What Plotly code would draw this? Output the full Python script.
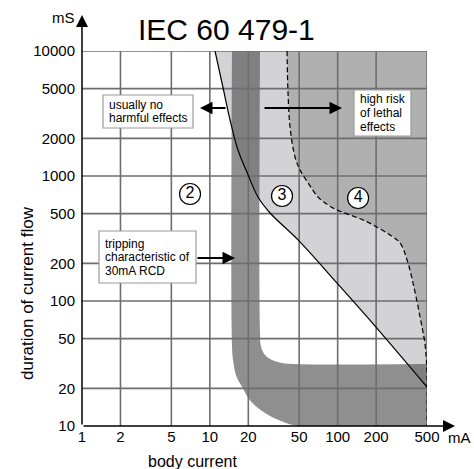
import math
import plotly.graph_objects as go

# ---------------- data (mA, ms) ----------------
x_ticks = [1, 2, 5, 10, 20, 50, 100, 200, 500]
y_ticks = [10, 20, 50, 100, 200, 500, 1000, 2000, 5000, 10000]

# solid boundary curve (zone 2 / zone 3)
c1_current = [10.98, 12.7, 14.4, 16.6, 19.5, 23.8, 29.6, 49.0, 98.9, 170, 500]
c1_time = [10000, 5058, 2805, 1614, 1076, 679, 506, 308, 139, 74.5, 20.5]

# dashed boundary curve (zone 3 / zone 4)
c2_current = [40.2, 40.9, 42.4, 46.4, 50.8, 58.7, 70.2, 84.1, 98.9, 125, 158, 196,
              257, 308, 349, 389, 441, 483, 500, 500]
c2_time = [10000, 4613, 2466, 1419, 1117, 879, 679, 586, 535, 488, 445, 398,
           337, 291, 213, 139, 74.5, 44.5, 25.6, 10]

# RCD tripping band: inner and outer edge
rcd_inner_current = [24.7, 24.7, 25.2, 27.0, 30.7, 36.7, 44.8, 500]
rcd_inner_time = [10000, 55.5, 42.9, 37.0, 33.7, 31.9, 31.3, 31.3]
rcd_outer_current = [14.9, 14.9, 15.2, 16.0, 17.9, 20.6, 25.6, 34.2, 49.0, 500]
rcd_outer_time = [10000, 44.5, 33.7, 25.6, 20.5, 16.1, 13.2, 11.2, 10, 10]

# zone labels
zone_labels = ["2", "3", "4"]
zone_current = [7.0, 36.7, 144.5]
zone_time = [718, 692, 667]

I_MIN, I_MAX = x_ticks[0], x_ticks[-1]
T_MIN, T_MAX = y_ticks[0], y_ticks[-1]

# ---------------- layout helpers ----------------
W, H = 474, 469
ML, MR, MT, MB = 82, 47, 51, 43
PW, PH = W - ML - MR, H - MT - MB


def pxx(xp):  # pixel x -> paper
    return (xp - ML) / PW


def pxy(yp):  # pixel y -> paper
    return (H - MB - yp) / PH


FONT = "Liberation Sans, Arial, Helvetica, sans-serif"
LIGHT = "#d3d3d5"
MID = "#b0b0b0"
BAND = "rgba(85,85,85,0.66)"
GRID = "#6e6e6e"

fig = go.Figure()
hid = dict(hoverinfo="skip", showlegend=False)

# light grey zone (right of solid curve)
fig.add_trace(go.Scatter(x=[I_MAX, I_MAX], y=[T_MAX, c1_time[-1]], mode="lines",
                         line=dict(width=0), **hid))
fig.add_trace(go.Scatter(x=c1_current, y=c1_time, mode="lines",
                         line=dict(width=0, shape="spline"), fill="tonextx",
                         fillcolor=LIGHT, **hid))
# medium grey zone (right of dashed curve)
fig.add_trace(go.Scatter(x=[I_MAX, I_MAX], y=[T_MAX, T_MIN], mode="lines",
                         line=dict(width=0), **hid))
fig.add_trace(go.Scatter(x=c2_current, y=c2_time, mode="lines",
                         line=dict(width=0, shape="spline"), fill="tonextx",
                         fillcolor=MID, **hid))
# RCD band
fig.add_trace(go.Scatter(x=rcd_inner_current, y=rcd_inner_time, mode="lines",
                         line=dict(width=0, shape="spline"), **hid))
fig.add_trace(go.Scatter(x=rcd_outer_current, y=rcd_outer_time, mode="lines",
                         line=dict(width=0, shape="spline"), fill="tonextx",
                         fillcolor=BAND, **hid))

# grid lines drawn over the zones
gx, gy = [], []
for v in x_ticks[1:]:
    gx += [v, v, None]
    gy += [T_MIN, T_MAX, None]
for v in y_ticks[1:]:
    gx += [I_MIN, I_MAX, None]
    gy += [v, v, None]
fig.add_trace(go.Scatter(x=gx, y=gy, mode="lines", line=dict(color=GRID, width=1.6), **hid))

# boundary curves
fig.add_trace(go.Scatter(x=c1_current, y=c1_time, mode="lines",
                         line=dict(color="black", width=1.2, shape="spline"), **hid))
fig.add_trace(go.Scatter(x=c2_current, y=c2_time, mode="lines",
                         line=dict(color="black", width=1.2, shape="spline", dash="5px,3px"), **hid))

# zone labels
fig.add_trace(go.Scatter(x=zone_current, y=zone_time, mode="markers+text", text=zone_labels,
                         textposition="middle center",
                         textfont=dict(family=FONT, size=16, color="black"),
                         marker=dict(size=21, color="white", line=dict(color="black", width=1.2)),
                         **hid))

ann = []
shapes = []

# axes with arrows
ann.append(dict(x=0, y=pxy(15), xref="paper", yref="paper", ax=0, ay=426 - 15,
                text="", showarrow=True, arrowhead=2, arrowsize=1.6,
                arrowwidth=1.5, arrowcolor="black"))
ann.append(dict(x=pxx(455), y=0, xref="paper", yref="paper", ax=-(455 - 82), ay=0,
                text="", showarrow=True, arrowhead=2, arrowsize=1.6,
                arrowwidth=1.5, arrowcolor="black"))


def label(xp, yp, text, size, **kw):
    ann.append(dict(x=pxx(xp), y=pxy(yp), xref="paper", yref="paper", text=text,
                    xanchor=kw.pop("xanchor", "center"), yanchor="middle",
                    showarrow=False, font=dict(family=FONT, size=size, color="black"), **kw))


# unit labels and titles
label(63, 18, "mS", 15)
label(460, 437, "mA", 15)
label(226, 29, "IEC 60 479-1", 30)
label(192, 461, "body current", 16)
label(27, 293, "duration of current flow", 17, textangle=-90)

# boxed notes: (left, top, right, bottom) in px, lines
notes = [
    ((103, 95, 193, 128), ["usually no", "harmful effects"]),
    ((354, 90, 411, 136), ["high risk", "of lethal", "effects"]),
    ((99, 231, 196, 283), ["tripping", "characteristic of", "30mA RCD"]),
]
for (l, t, r, b), lines in notes:
    shapes.append(dict(type="rect", xref="paper", yref="paper", x0=pxx(l), x1=pxx(r),
                       y0=pxy(b), y1=pxy(t), fillcolor="white",
                       line=dict(color="#9a9a9a", width=1.2), layer="above"))
    n = len(lines)
    cy = (t + b) / 2
    for i, s in enumerate(lines):
        yc = cy + (i - (n - 1) / 2) * 13.5
        label(l + 4, yc, s, 12, xanchor="left")

# note arrows: (tip_x, tip_y, tail_x)
for tipx, tipy, tailx in [(200, 108, 227), (342, 108, 263), (235, 258, 196)]:
    ann.append(dict(x=pxx(tipx), y=pxy(tipy), xref="paper", yref="paper",
                    ax=tailx - tipx, ay=0, text="", showarrow=True, arrowhead=2,
                    arrowsize=1.25, arrowwidth=2, arrowcolor="black"))

fig.update_layout(
    width=W, height=H,
    margin=dict(l=ML, r=MR, t=MT, b=MB, pad=0),
    paper_bgcolor="white", plot_bgcolor="white",
    showlegend=False,
    annotations=ann, shapes=shapes,
    font=dict(family=FONT, color="black"),
    xaxis=dict(type="log", range=[math.log10(I_MIN), math.log10(I_MAX)],
               tickvals=x_ticks, ticktext=[str(v) for v in x_ticks],
               showgrid=False, zeroline=False, showline=False, ticks="",
               tickfont=dict(family=FONT, size=15, color="black"), fixedrange=True),
    yaxis=dict(type="log", range=[math.log10(T_MIN), math.log10(T_MAX)],
               tickvals=y_ticks, ticktext=[str(v) for v in y_ticks],
               showgrid=False, zeroline=False, showline=False, ticks="",
               ticklabelstandoff=6,
               tickfont=dict(family=FONT, size=15, color="black"), fixedrange=True),
)

fig.write_html(
    "out.html",
    config={"displayModeBar": False},
    post_script="document.body.style.margin='0';"
                "document.documentElement.style.overflow='hidden';"
                "document.body.style.overflow='hidden';",
)
